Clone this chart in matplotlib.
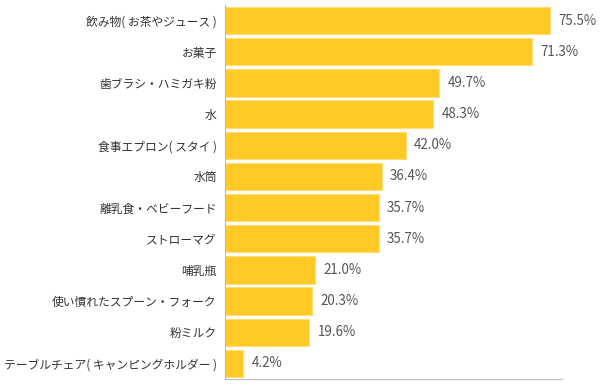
import matplotlib.pyplot as plt
import numpy as np

plt.rcParams['font.family'] = ['Noto Sans CJK JP', 'DejaVu Sans']

labels = ['飲み物( お茶やジュース )', 'お菓子', '歯ブラシ・ハミガキ粉', '水',
          '食事エプロン( スタイ )', '水筒', '離乳食・ベビーフード', 'ストローマグ',
          '哺乳瓶', '使い慣れたスプーン・フォーク', '粉ミルク',
          'テーブルチェア( キャンピングホルダー )']
values = [75.5, 71.3, 49.7, 48.3, 42.0, 36.4, 35.7, 35.7, 21.0, 20.3, 19.6, 4.2]

fig = plt.figure(figsize=(6.05, 3.91), dpi=100)
ax = fig.add_axes([225 / 605, 12 / 391, 337 / 605, 374 / 391])

y = np.arange(len(values))
ax.barh(y, values, height=0.88, color='#FFC926', edgecolor='#FFDD7A', linewidth=0.8)
for yi, v in zip(y, values):
    ax.text(v + 1.9, yi, '%.1f%%' % v, va='center', ha='left', fontsize=9.6, color='#555555')

ax.set_xlim(0, 78.2)
ax.set_ylim(len(values) - 0.5, -0.5)
ax.set_yticks(y)
ax.set_yticklabels(labels, fontsize=8.5, color='#333333')
ax.tick_params(axis='y', length=0, pad=6)
ax.set_xticks([])
for s in ['top', 'right']:
    ax.spines[s].set_visible(False)
for s in ['left', 'bottom']:
    ax.spines[s].set_color('#BBBBBB')
    ax.spines[s].set_linewidth(0.8)

fig.savefig('out.png', dpi=100)
